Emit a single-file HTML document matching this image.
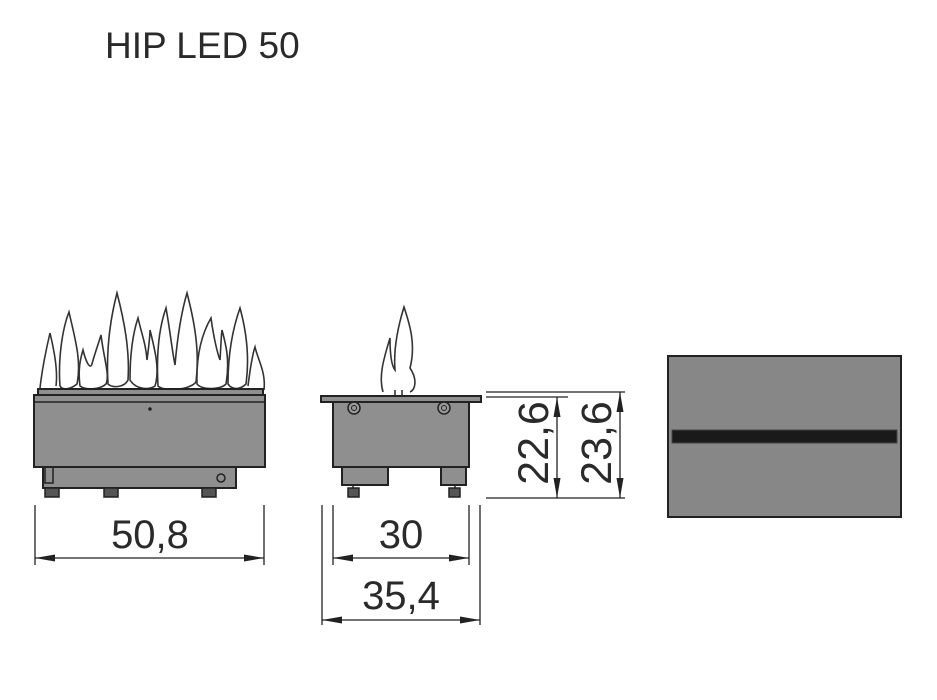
<!DOCTYPE html>
<html><head><meta charset="utf-8"><style>
body{margin:0;background:#fff;}
svg{display:block;}
text{font-family:"Liberation Sans",sans-serif;fill:#2a2a2a;}
</style></head><body>
<svg width="937" height="700" viewBox="0 0 937 700" xmlns="http://www.w3.org/2000/svg">
<defs>
<marker id="b" viewBox="0 0 20 10" refX="20" refY="5" markerWidth="22" markerHeight="10" markerUnits="userSpaceOnUse" orient="auto-start-reverse"><path d="M0,1.5 L20,5 L0,8.5z" fill="#222"/></marker>
</defs>
<text x="105" y="58" font-size="37">HIP LED 50</text>

<!-- flames front -->
<g fill="#fff" stroke="#333" stroke-width="1.6">
<path d="M40,388 C42,370 46,350 50,333 C54,350 58,370 56,386"/>
<path d="M60,386 C58,360 62,330 69,312 C74,335 82,360 77,384 C70,390 62,390 60,386z"/>
<path d="M80,386 C78,370 80,360 83,350 C86,362 90,370 92,364 C94,356 98,345 101,335 C104,360 110,375 106,384 C100,390 85,390 80,386z"/>
<path d="M108,384 C106,350 110,320 117,293 C124,320 130,350 128,380 C124,388 112,388 108,384z"/>
<path d="M130,380 C130,350 134,330 138,318 C142,335 146,345 147,360 C149,345 150,335 150,330 C155,350 160,370 155,386 C150,390 136,390 130,380z"/>
<path d="M158,386 C156,350 160,325 166,308 C170,330 172,350 175,365 C178,330 182,310 187,293 C194,320 200,350 196,382 C190,390 164,392 158,386z"/>
<path d="M197,384 C196,350 204,330 211,318 C214,340 218,355 220,360 C221,345 221,338 222,330 C226,345 230,360 226,384 C220,390 202,390 197,384z"/>
<path d="M228,384 C228,350 234,325 240,308 C246,330 250,355 246,384 C240,390 232,390 228,384z"/>
<path d="M248,386 C250,370 252,356 255,347 C258,360 266,372 264,390"/>
</g>
<!-- front body -->
<g stroke="#222" stroke-width="2" fill="#8f8f8f">
<rect x="38" y="389" width="225" height="6"/>
<rect x="34" y="395" width="231" height="72"/>
<rect x="43" y="467" width="193" height="21"/>
</g>
<g fill="#555" stroke="#222" stroke-width="1.5">
<rect x="45" y="488" width="14" height="9"/><rect x="104" y="488" width="14" height="9"/><rect x="202" y="488" width="14" height="9"/>
</g>
<line x1="34" y1="402" x2="265" y2="402" stroke="#222" stroke-width="1.5"/>
<circle cx="150" cy="409" r="1.8" fill="#222"/>
<circle cx="221" cy="478" r="4" fill="none" stroke="#222" stroke-width="1.5"/>
<path d="M45,467 V483 H53 V467" fill="none" stroke="#222" stroke-width="1.5"/>
<!-- front dims -->
<g stroke="#222" stroke-width="1.3">
<line x1="35" y1="505" x2="35" y2="565"/><line x1="264" y1="505" x2="264" y2="565"/>
<line x1="35" y1="558" x2="264" y2="558" marker-start="url(#b)" marker-end="url(#b)"/>
</g>
<text x="150" y="548" font-size="40" text-anchor="middle">50,8</text>

<!-- side flames -->
<g fill="#fff" stroke="#333" stroke-width="1.6">
<path d="M383,392 C378,375 385,355 390,338 C390,350 391,365 395,370 C393,345 400,320 404,307 C410,325 416,345 410,368 C418,380 415,390 410,392"/>
<line x1="395" y1="390" x2="395" y2="396"/><line x1="402" y1="390" x2="402" y2="396"/>
</g>
<!-- side body -->
<g stroke="#222" stroke-width="2" fill="#8f8f8f">
<rect x="321" y="396" width="160" height="6"/>
<rect x="333" y="402" width="136" height="65"/>
<rect x="342" y="467" width="46" height="18"/>
<rect x="441" y="467" width="25" height="18"/>
</g>
<g fill="#555" stroke="#222" stroke-width="1.5">
<rect x="348" y="488" width="11" height="9"/><rect x="449" y="488" width="11" height="9"/>
<line x1="353" y1="485" x2="353" y2="488"/><line x1="455" y1="485" x2="455" y2="488"/>
</g>
<g fill="#999" stroke="#222" stroke-width="1.5"><circle cx="354" cy="408" r="6"/><circle cx="444" cy="408" r="6"/></g>
<g fill="none" stroke="#222" stroke-width="1"><circle cx="354" cy="408" r="2.5"/><circle cx="444" cy="408" r="2.5"/></g>
<!-- side dims -->
<g stroke="#222" stroke-width="1.3">
<line x1="333" y1="505" x2="333" y2="565"/><line x1="469" y1="505" x2="469" y2="565"/>
<line x1="333" y1="558" x2="469" y2="558" marker-start="url(#b)" marker-end="url(#b)"/>
<line x1="322" y1="505" x2="322" y2="625"/><line x1="480" y1="505" x2="480" y2="625"/>
<line x1="322" y1="620" x2="480" y2="620" marker-start="url(#b)" marker-end="url(#b)"/>
<line x1="486" y1="392" x2="625" y2="392"/><line x1="486" y1="397" x2="568" y2="397"/>
<line x1="486" y1="498" x2="625" y2="498"/>
<line x1="557" y1="397" x2="557" y2="498" marker-start="url(#b)" marker-end="url(#b)"/>
<line x1="620" y1="392" x2="620" y2="498" marker-start="url(#b)" marker-end="url(#b)"/>
</g>
<text x="401" y="548" font-size="40" text-anchor="middle">30</text>
<text x="401" y="609" font-size="40" text-anchor="middle">35,4</text>
<text transform="translate(548,443) rotate(-90)" font-size="43" text-anchor="middle">22,6</text>
<text transform="translate(611,443) rotate(-90)" font-size="43" text-anchor="middle">23,6</text>

<!-- right view -->
<rect x="668" y="356" width="233" height="161" fill="#878787" stroke="#222" stroke-width="2"/>
<rect x="672" y="430" width="225" height="13" fill="#1a1a1a" stroke="#444" stroke-width="1"/>
</svg>
</body></html>
